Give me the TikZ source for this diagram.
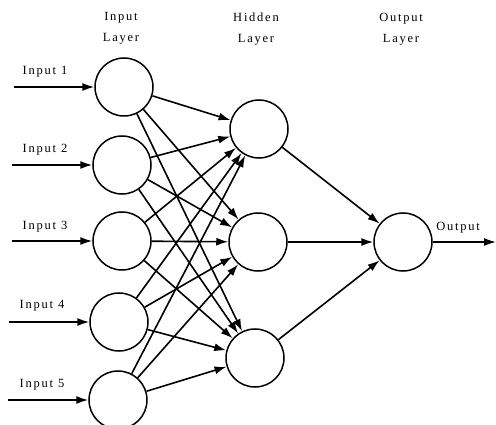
\documentclass[tikz,border=0pt]{standalone}
\usepackage{fontspec}
\setmainfont{Liberation Serif}[LetterSpace=14]
\usetikzlibrary{arrows.meta}
\pgfdeclarelayer{edgelayer}
\pgfdeclarelayer{nodelayer}
\pgfsetlayers{edgelayer,nodelayer,main}
\tikzstyle{neuron}=[circle,fill=white,draw=black,line width=1.5pt,minimum size=58pt,inner sep=0pt]
\tikzstyle{synapse}=[-{Latex[length=12pt,width=8pt]},draw=black,line width=1.6pt]
\tikzstyle{caption}=[font=\fontsize{12.5}{21}\selectfont,align=center]

\begin{document}
\begin{tikzpicture}[x=1pt,y=-1pt]
	\useasboundingbox (0,0) rectangle (496,425);
	\begin{pgfonlayer}{nodelayer}
		\node [style=caption] (la) at (121, 28) {Input\\Layer};
		\node [style=caption] (lb) at (256, 29) {Hidden\\Layer};
		\node [style=caption] (lc) at (401, 29) {Output\\Layer};
		\node [style=neuron] (0) at (124, 87) {};
		\node [style=neuron] (1) at (122, 165) {};
		\node [style=neuron] (2) at (122, 241) {};
		\node [style=neuron] (3) at (119, 322) {};
		\node [style=neuron] (4) at (118, 400) {};
		\node [style=neuron] (5) at (259, 129) {};
		\node [style=neuron] (6) at (258, 242) {};
		\node [style=neuron] (7) at (255, 358) {};
		\node [style=neuron] (8) at (403, 242) {};
		\node [style=caption] (t0) at (45, 72) {Input 1};
		\node [style=caption] (t1) at (45, 150) {Input 2};
		\node [style=caption] (t2) at (45, 227) {Input 3};
		\node [style=caption] (t3) at (42, 306) {Input 4};
		\node [style=caption] (t4) at (42, 385) {Input 5};
		\node [style=caption] (t5) at (458, 228) {Output};
		\coordinate (i0) at (14, 87);
		\coordinate (i1) at (12, 165);
		\coordinate (i2) at (12, 241);
		\coordinate (i3) at (9, 322);
		\coordinate (i4) at (8, 400);
		\coordinate (o) at (496, 242);
	\end{pgfonlayer}
	\begin{pgfonlayer}{edgelayer}
		\draw [style=synapse] (i0) to (0);
		\draw [style=synapse] (i1) to (1);
		\draw [style=synapse] (i2) to (2);
		\draw [style=synapse] (i3) to (3);
		\draw [style=synapse] (i4) to (4);
		\draw [style=synapse] (0) to (5);
		\draw [style=synapse] (0) to (6);
		\draw [style=synapse] (0) to (7);
		\draw [style=synapse] (1) to (5);
		\draw [style=synapse] (1) to (6);
		\draw [style=synapse] (1) to (7);
		\draw [style=synapse] (2) to (5);
		\draw [style=synapse] (2) to (6);
		\draw [style=synapse] (2) to (7);
		\draw [style=synapse] (3) to (5);
		\draw [style=synapse] (3) to (6);
		\draw [style=synapse] (3) to (7);
		\draw [style=synapse] (4) to (5);
		\draw [style=synapse] (4) to (6);
		\draw [style=synapse] (4) to (7);
		\draw [style=synapse] (5) to (8);
		\draw [style=synapse] (6) to (8);
		\draw [style=synapse] (7) to (8);
		\draw [style=synapse] (8) to (o);
	\end{pgfonlayer}
\end{tikzpicture}
\end{document}
